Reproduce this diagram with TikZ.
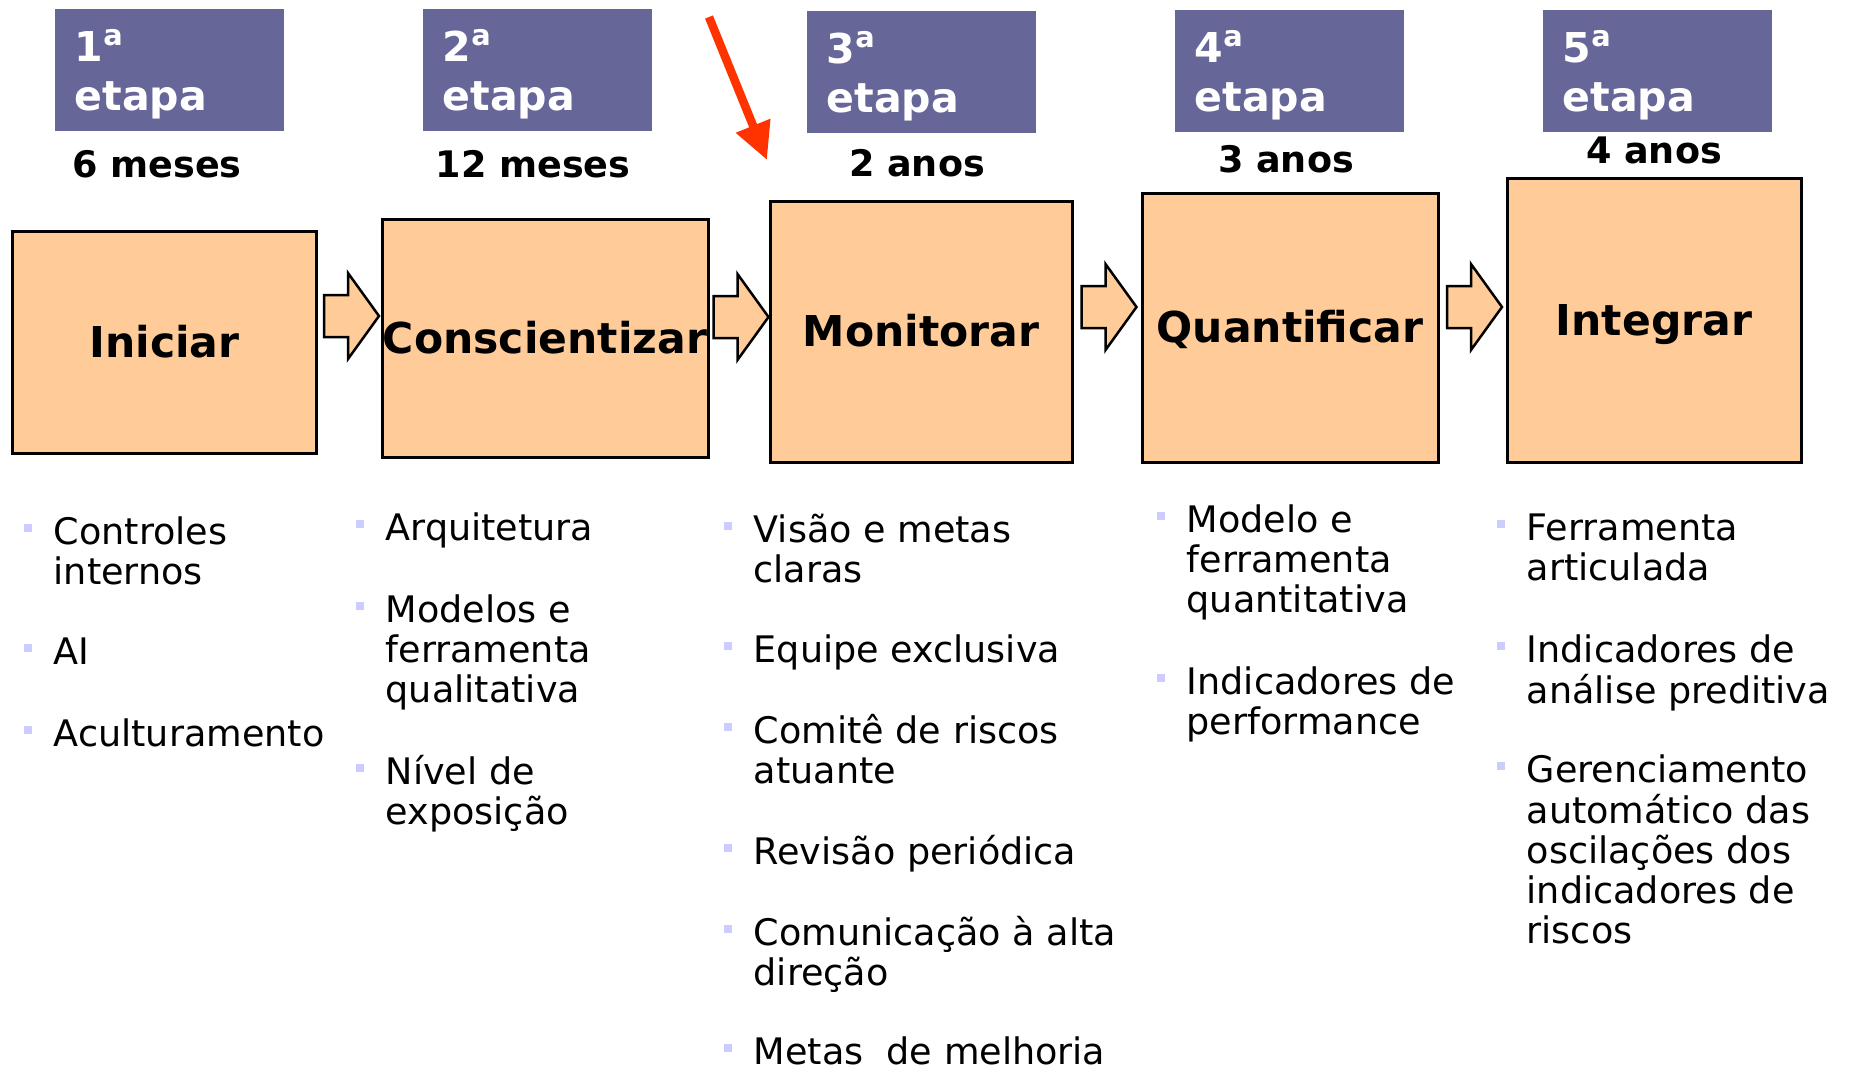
\documentclass[tikz,border=0pt]{standalone}
\usepackage{fontspec}
\setmainfont{DejaVu Sans}
\usetikzlibrary{arrows.meta,calc}
\definecolor{stepblue}{RGB}{102,102,153}
\definecolor{peach}{RGB}{255,204,153}
\definecolor{bulletc}{RGB}{204,204,255}
\definecolor{redarrow}{RGB}{255,51,0}
\newcommand{\lstack}[1]{\begin{tabular}[t]{@{}l@{}}#1\end{tabular}}
\newcommand{\bsq}{\textcolor{bulletc}{\rule[1.2mm]{0.8mm}{0.8mm}}}
\newcommand{\bitem}[1]{\llap{\bsq\hspace{2.2mm}}\lstack{#1}}
\newcommand{\stagearrow}[3]{%
  \coordinate (#2-tip) at ($(#1.east)!0.5!(#2.west)+(29.5,0)$);
  \draw[flowarrow] (#2-tip |- 0,#3) -- ++(-31,-43) -- ++(0,22) -- ++(-24,0) -- ++(0,42) -- ++(24,0) -- ++(0,22) -- cycle;}
\tikzset{
  stepbox/.style={fill=stepblue, inner sep=0pt, anchor=north west, minimum width=22.9mm, minimum height=12.2mm},
  steptext/.style={anchor=base west, inner sep=0pt, text=white, font=\fontsize{11.7}{14.2}\selectfont\bfseries},
  duration/.style={anchor=base, inner sep=0pt, font=\fontsize{10.4}{12}\selectfont\bfseries},
  stagebox/.style={draw=black, line width=0.3mm, fill=peach, inner sep=0pt, text height=8.8pt, text depth=0pt, font=\fontsize{12.1}{14}\selectfont\bfseries},
  flowarrow/.style={draw=black, line width=0.25mm, fill=peach, line join=miter},
  item/.style={anchor=base west, inner sep=0pt, font=\fontsize{10.4}{11.4}\selectfont},
  redpointer/.style={draw=redarrow, line width=0.85mm, -{Triangle[length=3.7mm,width=3.5mm]}},
}
\begin{document}
\begin{tikzpicture}[x=0.1mm, y=-0.1mm]
        \useasboundingbox (0,0) rectangle (1850,1069);
        %Etapas
        \node[stepbox] (s1) at (54,8) {};   \node[steptext] (t1) at ([shift={(20,53)}]s1.north west) {\lstack{1\textsuperscript{a}\\etapa}};
        \node[stepbox] (s2) at (422,8) {};  \node[steptext] (t2) at ([shift={(20,53)}]s2.north west) {\lstack{2\textsuperscript{a}\\etapa}};
        \node[stepbox] (s3) at (806,10) {}; \node[steptext] (t3) at ([shift={(20,53)}]s3.north west) {\lstack{3\textsuperscript{a}\\etapa}};
        \node[stepbox] (s4) at (1174,9) {}; \node[steptext] (t4) at ([shift={(20,53)}]s4.north west) {\lstack{4\textsuperscript{a}\\etapa}};
        \node[stepbox] (s5) at (1542,9) {}; \node[steptext] (t5) at ([shift={(20,53)}]s5.north west) {\lstack{5\textsuperscript{a}\\etapa}};
        %Prazos
        \node[duration] (d1) at (157,177) {6 meses};
        \node[duration] (d2) at (533,177) {12 meses};
        \node[duration] (d3) at (917,176) {2 anos};
        \node[duration] (d4) at (1286,172) {3 anos};
        \node[duration] (d5) at (1654,163) {4 anos};
        %Caixas
        \node[stagebox, minimum width=30.5mm, minimum height=22.2mm] (ini) at (164.5,342) {Iniciar};
        \node[stagebox, minimum width=32.6mm, minimum height=23.8mm] (cons) at (545,338) {Conscientizar};
        \node[stagebox, minimum width=30.2mm, minimum height=26.1mm] (mon) at (921,331.5) {Monitorar};
        \node[stagebox, minimum width=29.6mm, minimum height=26.9mm] (quant) at (1290,327.5) {Quantificar};
        \node[stagebox, minimum width=29.4mm, minimum height=28.4mm] (integ) at (1654,320) {Integrar};
        %Setas
        \stagearrow{ini}{cons}{316}
        \stagearrow{cons}{mon}{317}
        \stagearrow{mon}{quant}{307}
        \stagearrow{quant}{integ}{307}
        \coordinate (redtail) at (709,17); \coordinate (redtip) at (767,160);
        \draw[redpointer] (redtail) -- (redtip);
        %Listas
        \node[item] (c1a) at (53,544) {\bitem{Controles\\internos}};
        \node[item] (c1b) at (53,664) {\bitem{AI}};
        \node[item] (c1c) at (53,746) {\bitem{Aculturamento}};
        \node[item] (c2a) at (385,540) {\bitem{Arquitetura}};
        \node[item] (c2b) at (385,622) {\bitem{Modelos e\\ferramenta\\qualitativa}};
        \node[item] (c2c) at (385,784) {\bitem{Nível de\\exposição}};
        \node[item] (c3a) at (753,542) {\bitem{Visão e metas\\claras}};
        \node[item] (c3b) at (753,662) {\bitem{Equipe exclusiva}};
        \node[item] (c3c) at (753,743) {\bitem{Comitê de riscos\\atuante}};
        \node[item] (c3d) at (753,864) {\bitem{Revisão periódica}};
        \node[item] (c3e) at (753,945) {\bitem{Comunicação à alta\\direção}};
        \node[item] (c3f) at (753,1064) {\bitem{Metas\ \ de melhoria}};
        \node[item] (c4a) at (1186,532) {\bitem{Modelo e\\ferramenta\\quantitativa}};
        \node[item] (c4b) at (1186,694) {\bitem{Indicadores de\\performance}};
        \node[item] (c5a) at (1526,540) {\bitem{Ferramenta\\articulada}};
        \node[item] (c5b) at (1526,662) {\bitem{Indicadores de\\análise preditiva}};
        \node[item] (c5c) at (1526,782) {\bitem{Gerenciamento\\automático das\\oscilações dos\\indicadores de\\riscos}};
\end{tikzpicture}
\end{document}
